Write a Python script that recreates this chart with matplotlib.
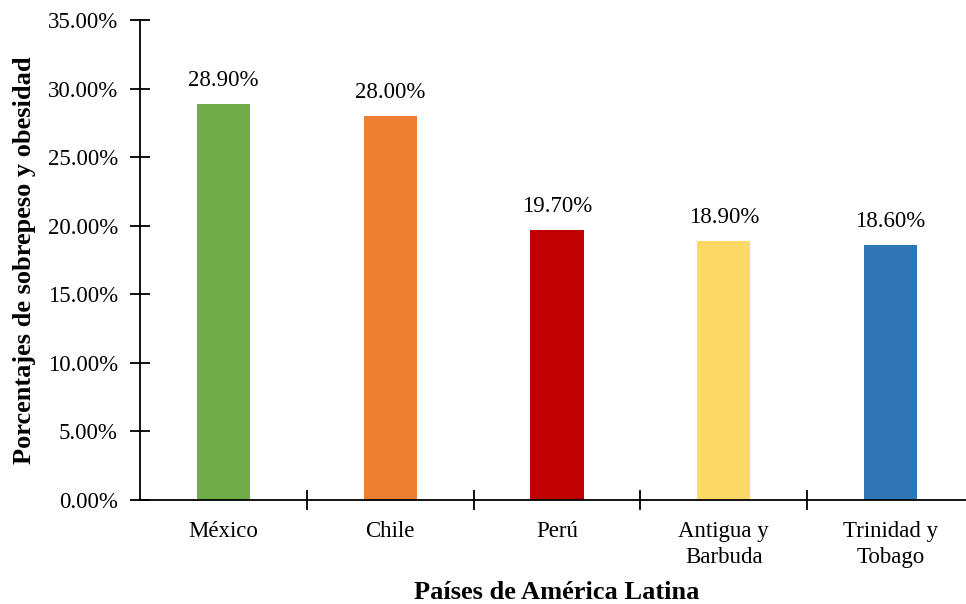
import matplotlib.pyplot as plt
import numpy as np

paises = ["México", "Chile", "Perú", "Antigua y\nBarbuda", "Trinidad y\nTobago"]
porcentajes = [28.90, 28.00, 19.70, 18.90, 18.60]
colores = ["#70AD47", "#ED7D31", "#C00000", "#FFD966", "#2E75B6"]
y_ticks = np.arange(0, 35.01, 5)

plt.rcParams["font.family"] = ["Liberation Serif", "DejaVu Serif"]

fig = plt.figure(figsize=(9.66, 6.04), dpi=100)
# axes spans 140..974 px horizontally, 20..500 px vertically
ax = fig.add_axes([140 / 966, 104 / 604, 834 / 966, 480 / 604])

x = np.arange(len(paises))
ax.bar(x, porcentajes, width=0.32, color=colores)

for xi, v in zip(x, porcentajes):
    ax.annotate(f"{v:.2f}%", (xi, v), xytext=(0, 9), textcoords="offset points",
                ha="center", va="bottom", fontsize=16.5)

ax.set_xlim(-0.5, len(paises) - 0.5)
ax.set_ylim(0, 35)
ax.set_yticks(y_ticks)
ax.set_yticklabels([f"{t:.2f}%" for t in y_ticks], fontsize=16.5)

ax.set_xticks(x)
ax.set_xticklabels(paises, fontsize=16.5, linespacing=1.35)
ax.tick_params(axis="x", length=0, pad=15)
ax.set_xticks(np.arange(0.5, len(paises) - 0.5), minor=True)
ax.tick_params(axis="x", which="minor", direction="inout", length=14, width=1.3)
ax.tick_params(axis="y", direction="inout", length=14, width=1.3, pad=9)

for s in ["top", "right"]:
    ax.spines[s].set_visible(False)
for s in ["left", "bottom"]:
    ax.spines[s].set_linewidth(1.3)

ax.set_xlabel("Países de América Latina", fontsize=19, fontweight="bold", labelpad=9)
ax.set_ylabel("Porcentajes de sobrepeso y obesidad", fontsize=19, fontweight="bold", labelpad=8)

fig.savefig("out.png", dpi=100)
